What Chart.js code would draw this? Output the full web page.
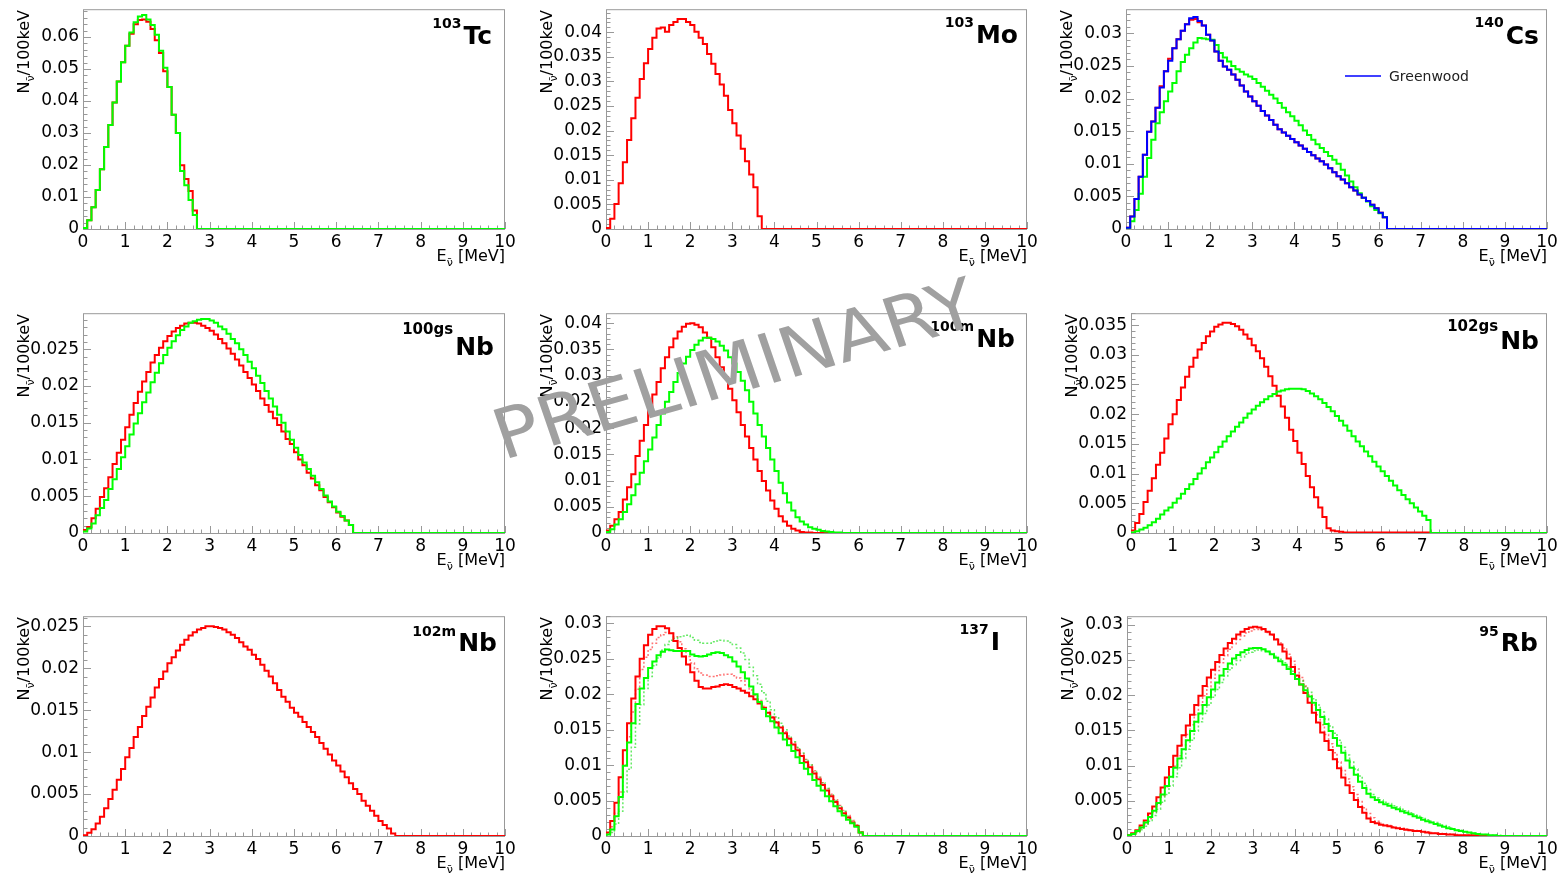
<!DOCTYPE html>
<html><head><meta charset="utf-8">
<script src="https://cdn.jsdelivr.net/npm/chart.js@4.4.1/dist/chart.umd.min.js"></script>
<style>
html,body{margin:0;padding:0;background:#fff;}
body{width:1562px;height:877px;position:relative;overflow:hidden;}
canvas.pane{position:absolute;}
svg#ann{position:absolute;left:0;top:0;}
</style></head><body>
<div id="wrap"></div>
<svg id="ann" width="1562" height="877" xmlns="http://www.w3.org/2000/svg"></svg>
<script>
// ---------------- DATA (bin contents, 0.1 MeV bins starting at 0 MeV; later bins are 0) ----------------
const NBINS = 100, BIN_WIDTH = 0.1;
const energyTicks = [0,1,2,3,4,5,6,7,8,9,10];

const tc103Red   = [0.0003,0.0027,0.0068,0.0122,0.0187,0.0256,0.0325,0.0395,0.0461,0.0521,0.0573,0.0610,0.0640,0.0653,0.0655,0.0648,0.0625,0.0590,0.0550,0.0493,0.0444,0.0357,0.0300,0.0199,0.0156,0.0119,0.0058];
const tc103Green = [0.0003,0.0027,0.0068,0.0122,0.0187,0.0256,0.0325,0.0395,0.0461,0.0521,0.0573,0.0614,0.0646,0.0664,0.0669,0.0655,0.0638,0.0607,0.0557,0.0504,0.0444,0.0357,0.0300,0.0181,0.0137,0.0091,0.0044];
const tc103YTicks = [0,0.01,0.02,0.03,0.04,0.05,0.06];

const mo103Red = [0.0002,0.0021,0.0051,0.0093,0.0136,0.0181,0.0225,0.0267,0.0305,0.0337,0.0366,0.0389,0.0408,0.0410,0.0401,0.0415,0.0421,0.0427,0.0427,0.0421,0.0415,0.0401,0.0389,0.0376,0.0356,0.0336,0.0315,0.0294,0.0271,0.0242,0.0215,0.0190,0.0163,0.0138,0.0111,0.0085,0.0026];
const mo103YTicks = [0,0.005,0.01,0.015,0.02,0.025,0.03,0.035,0.04];

const cs140Blue  = [0.0002,0.0019,0.0046,0.0080,0.0114,0.0149,0.0165,0.0186,0.0217,0.0242,0.0258,0.0277,0.0291,0.0304,0.0314,0.0323,0.0325,0.0319,0.0312,0.0298,0.0289,0.0272,0.0258,0.0249,0.0244,0.0237,0.0229,0.0220,0.0211,0.0203,0.0196,0.0189,0.0181,0.0174,0.0167,0.0160,0.0153,0.0148,0.0143,0.0138,0.0133,0.0128,0.0123,0.0118,0.0113,0.0108,0.0104,0.0099,0.0093,0.0087,0.0081,0.0076,0.0070,0.0064,0.0059,0.0053,0.0048,0.0043,0.0037,0.0032,0.0025,0.0018];
const cs140Red   = [0.0002,0.0019,0.0046,0.0080,0.0114,0.0149,0.0165,0.0186,0.0219,0.0242,0.0261,0.0277,0.0291,0.0304,0.0314,0.0321,0.0322,0.0317,0.0312,0.0298,0.0289,0.0272,0.0258,0.0249,0.0244,0.0237,0.0229,0.0220,0.0211,0.0203,0.0196,0.0189,0.0181,0.0174,0.0167,0.0160,0.0153,0.0148,0.0143,0.0138,0.0133,0.0128,0.0123,0.0118,0.0113,0.0108,0.0104,0.0099,0.0093,0.0087,0.0081,0.0076,0.0070,0.0064,0.0059,0.0053,0.0048,0.0043,0.0037,0.0032,0.0025,0.0018];
const cs140Green = [0.0001,0.0012,0.0029,0.0054,0.0080,0.0109,0.0137,0.0162,0.0179,0.0196,0.0211,0.0224,0.0242,0.0256,0.0267,0.0277,0.0286,0.0293,0.0292,0.0291,0.0290,0.0282,0.0270,0.0263,0.0257,0.0250,0.0245,0.0241,0.0237,0.0234,0.0230,0.0224,0.0218,0.0212,0.0206,0.0200,0.0193,0.0186,0.0179,0.0173,0.0166,0.0159,0.0151,0.0144,0.0137,0.0130,0.0124,0.0118,0.0112,0.0106,0.0100,0.0091,0.0082,0.0073,0.0064,0.0055,0.0048,0.0042,0.0035,0.0029,0.0024,0.0018];
const cs140YTicks = [0,0.005,0.01,0.015,0.02,0.025,0.03];

const nb100gsRed   = [0.0004,0.0008,0.0020,0.0033,0.0049,0.0061,0.0076,0.0094,0.0109,0.0127,0.0144,0.0161,0.0177,0.0192,0.0206,0.0219,0.0232,0.0242,0.0252,0.0261,0.0268,0.0274,0.0279,0.0282,0.0285,0.0286,0.0286,0.0285,0.0282,0.0279,0.0275,0.0270,0.0264,0.0258,0.0251,0.0244,0.0236,0.0228,0.0219,0.0211,0.0202,0.0193,0.0183,0.0174,0.0165,0.0156,0.0147,0.0138,0.0128,0.0121,0.0110,0.0100,0.0092,0.0082,0.0074,0.0065,0.0058,0.0049,0.0042,0.0035,0.0028,0.0022,0.0017,0.0011];
const nb100gsGreen = [0.0002,0.0006,0.0013,0.0024,0.0034,0.0045,0.0060,0.0073,0.0087,0.0103,0.0118,0.0134,0.0149,0.0163,0.0178,0.0191,0.0205,0.0218,0.0231,0.0242,0.0252,0.0261,0.0269,0.0276,0.0281,0.0286,0.0288,0.0290,0.0291,0.0291,0.0289,0.0286,0.0281,0.0277,0.0271,0.0264,0.0258,0.0250,0.0242,0.0233,0.0224,0.0214,0.0204,0.0193,0.0183,0.0172,0.0161,0.0150,0.0138,0.0127,0.0116,0.0106,0.0096,0.0087,0.0078,0.0069,0.0060,0.0051,0.0043,0.0036,0.0029,0.0023,0.0017,0.0011];
const nb100gsYTicks = [0,0.005,0.01,0.015,0.02,0.025];

const nb100mRed   = [0.0005,0.0014,0.0026,0.0040,0.0064,0.0087,0.0112,0.0147,0.0176,0.0206,0.0236,0.0264,0.0288,0.0314,0.0335,0.0354,0.0371,0.0384,0.0393,0.0399,0.0400,0.0397,0.0392,0.0382,0.0372,0.0354,0.0335,0.0316,0.0297,0.0275,0.0253,0.0230,0.0206,0.0184,0.0162,0.0140,0.0118,0.0099,0.0081,0.0062,0.0046,0.0032,0.0022,0.0014,0.0008,0.0005,0.0002,0.0001,0.0001];
const nb100mGreen = [0.0002,0.0007,0.0016,0.0026,0.0040,0.0055,0.0072,0.0093,0.0115,0.0137,0.0159,0.0182,0.0206,0.0228,0.0250,0.0269,0.0288,0.0305,0.0323,0.0336,0.0349,0.0359,0.0367,0.0372,0.0372,0.0370,0.0365,0.0357,0.0348,0.0335,0.0323,0.0307,0.0290,0.0272,0.0250,0.0228,0.0206,0.0184,0.0162,0.0140,0.0118,0.0096,0.0076,0.0058,0.0043,0.0030,0.0022,0.0016,0.0011,0.0008,0.0006,0.0004,0.0003,0.0002,0.0001,0.0001];
const nb100mYTicks = [0,0.005,0.01,0.015,0.02,0.025,0.03,0.035,0.04];

const nb102gsRed   = [0.0004,0.0017,0.0032,0.0052,0.0071,0.0092,0.0115,0.0135,0.0159,0.0183,0.0200,0.0224,0.0245,0.0263,0.0280,0.0295,0.0309,0.0320,0.0331,0.0339,0.0347,0.0351,0.0354,0.0354,0.0352,0.0348,0.0342,0.0334,0.0327,0.0316,0.0306,0.0294,0.0280,0.0264,0.0248,0.0231,0.0213,0.0194,0.0174,0.0155,0.0135,0.0116,0.0096,0.0077,0.0060,0.0043,0.0027,0.0008,0.0004,0.0003,0.0002,0.0001,0.0001,0.0001,0.0001,0.0001,0.0001,0.0001,0.0001,0.0001,0.0001,0.0001,0.0001,0.0001,0.0001,0.0001,0.0001,0.0001,0.0001,0.0001,0.0001,0.0001];
const nb102gsGreen = [0.0001,0.0003,0.0006,0.0009,0.0013,0.0018,0.0024,0.0031,0.0038,0.0043,0.0051,0.0058,0.0066,0.0074,0.0082,0.0091,0.0100,0.0109,0.0119,0.0127,0.0136,0.0145,0.0154,0.0163,0.0171,0.0179,0.0186,0.0194,0.0201,0.0208,0.0214,0.0220,0.0225,0.0230,0.0234,0.0238,0.0240,0.0242,0.0243,0.0243,0.0243,0.0242,0.0239,0.0235,0.0230,0.0225,0.0219,0.0212,0.0205,0.0197,0.0189,0.0181,0.0172,0.0163,0.0154,0.0146,0.0137,0.0129,0.0120,0.0112,0.0104,0.0096,0.0088,0.0080,0.0072,0.0064,0.0057,0.0050,0.0043,0.0036,0.0029,0.0022];
const nb102gsYTicks = [0,0.005,0.01,0.015,0.02,0.025,0.03,0.035];

const nb102mRed = [0.0001,0.0004,0.0008,0.0015,0.0023,0.0033,0.0044,0.0055,0.0067,0.0080,0.0094,0.0105,0.0118,0.0130,0.0143,0.0154,0.0165,0.0177,0.0187,0.0196,0.0206,0.0213,0.0221,0.0228,0.0234,0.0239,0.0243,0.0246,0.0248,0.0250,0.0250,0.0249,0.0248,0.0246,0.0243,0.0240,0.0236,0.0231,0.0226,0.0222,0.0216,0.0211,0.0204,0.0197,0.0190,0.0182,0.0174,0.0166,0.0160,0.0153,0.0147,0.0142,0.0136,0.0130,0.0124,0.0118,0.0111,0.0104,0.0097,0.0090,0.0084,0.0077,0.0070,0.0063,0.0056,0.0050,0.0042,0.0036,0.0030,0.0024,0.0018,0.0013,0.0009,0.0003];
const nb102mYTicks = [0,0.005,0.01,0.015,0.02,0.025];

const i137Red        = [0.0005,0.0021,0.0047,0.0083,0.0121,0.0159,0.0194,0.0225,0.0250,0.0269,0.0284,0.0292,0.0296,0.0296,0.0293,0.0286,0.0275,0.0265,0.0253,0.0242,0.0231,0.0219,0.0210,0.0208,0.0208,0.0210,0.0211,0.0213,0.0214,0.0213,0.0210,0.0208,0.0205,0.0202,0.0197,0.0193,0.0187,0.0181,0.0174,0.0167,0.0160,0.0153,0.0145,0.0137,0.0129,0.0121,0.0113,0.0104,0.0097,0.0088,0.0080,0.0072,0.0064,0.0056,0.0048,0.0039,0.0032,0.0026,0.0019,0.0014,0.0005];
const i137Green      = [0.0002,0.0009,0.0028,0.0055,0.0099,0.0132,0.0159,0.0186,0.0208,0.0223,0.0237,0.0246,0.0255,0.0260,0.0263,0.0262,0.0261,0.0261,0.0261,0.0261,0.0256,0.0254,0.0253,0.0254,0.0256,0.0258,0.0259,0.0258,0.0255,0.0252,0.0246,0.0239,0.0231,0.0222,0.0211,0.0200,0.0189,0.0179,0.0169,0.0162,0.0153,0.0145,0.0136,0.0128,0.0120,0.0111,0.0103,0.0095,0.0087,0.0079,0.0071,0.0064,0.0056,0.0049,0.0042,0.0035,0.0029,0.0023,0.0018,0.0013,0.0005];
const i137RedDotted  = [0.0003,0.0013,0.0032,0.0062,0.0100,0.0140,0.0175,0.0207,0.0235,0.0252,0.0263,0.0272,0.0280,0.0284,0.0287,0.0286,0.0281,0.0274,0.0264,0.0253,0.0244,0.0236,0.0230,0.0227,0.0225,0.0225,0.0226,0.0227,0.0228,0.0228,0.0226,0.0223,0.0219,0.0213,0.0206,0.0199,0.0191,0.0183,0.0175,0.0168,0.0161,0.0154,0.0147,0.0139,0.0132,0.0124,0.0116,0.0108,0.0100,0.0092,0.0083,0.0075,0.0067,0.0059,0.0051,0.0043,0.0036,0.0029,0.0022,0.0016,0.0006];
const i137GreenDotted= [0.0001,0.0005,0.0017,0.0035,0.0062,0.0094,0.0125,0.0158,0.0185,0.0208,0.0225,0.0240,0.0251,0.0262,0.0270,0.0276,0.0279,0.0281,0.0282,0.0283,0.0280,0.0276,0.0273,0.0272,0.0272,0.0274,0.0275,0.0276,0.0275,0.0273,0.0270,0.0265,0.0258,0.0249,0.0238,0.0226,0.0214,0.0202,0.0190,0.0178,0.0168,0.0159,0.0150,0.0141,0.0133,0.0125,0.0117,0.0108,0.0100,0.0091,0.0083,0.0075,0.0067,0.0058,0.0050,0.0043,0.0035,0.0028,0.0021,0.0015,0.0005];
const i137YTicks = [0,0.005,0.01,0.015,0.02,0.025,0.03];

const rb95Red        = [0.0001,0.0004,0.0008,0.0015,0.0022,0.0032,0.0042,0.0055,0.0069,0.0083,0.0098,0.0114,0.0128,0.0143,0.0157,0.0172,0.0186,0.0199,0.0213,0.0225,0.0236,0.0247,0.0257,0.0266,0.0274,0.0280,0.0286,0.0290,0.0294,0.0296,0.0297,0.0296,0.0294,0.0290,0.0286,0.0279,0.0272,0.0262,0.0252,0.0240,0.0228,0.0215,0.0203,0.0189,0.0175,0.0161,0.0147,0.0135,0.0122,0.0109,0.0096,0.0083,0.0072,0.0061,0.0051,0.0041,0.0033,0.0025,0.0020,0.0018,0.0016,0.0015,0.0014,0.0012,0.0011,0.0010,0.0009,0.0008,0.0007,0.0007,0.0006,0.0005,0.0004,0.0004,0.0003,0.0003,0.0002,0.0002,0.0001,0.0001,0.0001,0.0001,0.0001];
const rb95Green      = [0.0001,0.0003,0.0007,0.0012,0.0019,0.0027,0.0036,0.0047,0.0059,0.0071,0.0084,0.0097,0.0110,0.0123,0.0136,0.0149,0.0162,0.0174,0.0186,0.0197,0.0208,0.0218,0.0228,0.0237,0.0245,0.0252,0.0257,0.0261,0.0264,0.0266,0.0267,0.0267,0.0265,0.0262,0.0258,0.0253,0.0248,0.0243,0.0237,0.0230,0.0223,0.0215,0.0207,0.0198,0.0189,0.0179,0.0169,0.0159,0.0149,0.0139,0.0128,0.0118,0.0107,0.0097,0.0087,0.0077,0.0068,0.0060,0.0055,0.0051,0.0048,0.0045,0.0043,0.0040,0.0038,0.0035,0.0033,0.0031,0.0028,0.0026,0.0023,0.0021,0.0019,0.0017,0.0015,0.0013,0.0011,0.0010,0.0008,0.0007,0.0006,0.0005,0.0004,0.0003,0.0002,0.0002,0.0001,0.0001];
const rb95RedDotted  = [0.0001,0.0003,0.0006,0.0011,0.0017,0.0025,0.0034,0.0045,0.0057,0.0070,0.0084,0.0099,0.0114,0.0129,0.0144,0.0158,0.0172,0.0186,0.0199,0.0212,0.0224,0.0235,0.0246,0.0256,0.0265,0.0273,0.0279,0.0284,0.0288,0.0291,0.0293,0.0293,0.0292,0.0289,0.0285,0.0280,0.0274,0.0267,0.0258,0.0248,0.0237,0.0225,0.0213,0.0200,0.0186,0.0172,0.0158,0.0144,0.0131,0.0118,0.0105,0.0093,0.0081,0.0070,0.0059,0.0049,0.0040,0.0032,0.0026,0.0021,0.0018,0.0016,0.0015,0.0013,0.0012,0.0011,0.0010,0.0009,0.0008,0.0007,0.0006,0.0006,0.0005,0.0004,0.0004,0.0003,0.0003,0.0002,0.0002,0.0001,0.0001,0.0001];
const rb95GreenDotted= [0.0000,0.0002,0.0005,0.0009,0.0014,0.0021,0.0029,0.0038,0.0048,0.0059,0.0071,0.0084,0.0097,0.0110,0.0123,0.0136,0.0149,0.0162,0.0174,0.0186,0.0197,0.0208,0.0218,0.0227,0.0236,0.0243,0.0249,0.0254,0.0258,0.0261,0.0263,0.0264,0.0263,0.0262,0.0259,0.0255,0.0251,0.0246,0.0240,0.0234,0.0227,0.0220,0.0212,0.0204,0.0195,0.0186,0.0176,0.0166,0.0156,0.0146,0.0136,0.0126,0.0115,0.0105,0.0095,0.0085,0.0075,0.0066,0.0059,0.0054,0.0051,0.0048,0.0046,0.0043,0.0041,0.0038,0.0036,0.0033,0.0031,0.0028,0.0026,0.0023,0.0021,0.0019,0.0017,0.0015,0.0013,0.0011,0.0009,0.0008,0.0006,0.0005,0.0004,0.0003,0.0002,0.0002,0.0001,0.0001,0.0001];
const rb95YTicks = [0,0.005,0.01,0.015,0.02,0.025,0.03];

// ---------------- STYLE / LAYOUT ----------------
const RED = '#ff0000', GREEN = '#00ff00', BLUE = '#0000ff';
const RED_DOT = 'rgba(255,0,0,0.55)', GREEN_DOT = 'rgba(0,220,0,0.6)';
const FONT = 'DejaVu Sans';

// label: right edge x, main-text baseline y, superscript raise dy, superscript size
const PANELS = [
  {frame:[83,7,505,229],   ymax:0.0687, yTicks:tc103YTicks,  yMinor:0.002,
   series:[{v:tc103Green,c:GREEN},{v:tc103Red,c:RED}], label:{x:492,y:44,sup:'103',main:'Tc',dy:16,fs:14}},
  {frame:[606,7,1027,229], ymax:0.0447, yTicks:mo103YTicks,  yMinor:0.001,
   series:[{v:mo103Red,c:RED}], label:{x:1018,y:43,sup:'103',main:'Mo',dy:16,fs:14}},
  {frame:[1126,7,1547,229],ymax:0.0337, yTicks:cs140YTicks,  yMinor:0.001,
   series:[{v:cs140Blue,c:BLUE},{v:cs140Green,c:GREEN},{v:cs140Red,c:RED}], label:{x:1539,y:44,sup:'140',main:'Cs',dy:17,fs:14}, legend:true},
  {frame:[83,311,505,533], ymax:0.0299, yTicks:nb100gsYTicks,yMinor:0.001,
   series:[{v:nb100gsGreen,c:GREEN},{v:nb100gsRed,c:RED}], label:{x:494,y:355,sup:'100gs',main:'Nb',dy:21,fs:15}},
  {frame:[606,311,1027,533],ymax:0.0419, yTicks:nb100mYTicks, yMinor:0.001,
   series:[{v:nb100mGreen,c:GREEN},{v:nb100mRed,c:RED}], label:{x:1015,y:347,sup:'100m',main:'Nb',dy:16,fs:14}},
  {frame:[1131,311,1547,533],ymax:0.0370,yTicks:nb102gsYTicks,yMinor:0.001,
   series:[{v:nb102gsGreen,c:GREEN},{v:nb102gsRed,c:RED}], label:{x:1539,y:349,sup:'102gs',main:'Nb',dy:18,fs:15}},
  {frame:[83,614,505,836], ymax:0.0262, yTicks:nb102mYTicks, yMinor:0.001,
   series:[{v:nb102mRed,c:RED}], label:{x:497,y:651,sup:'102m',main:'Nb',dy:15,fs:14}},
  {frame:[606,614,1027,836],ymax:0.0310, yTicks:i137YTicks,   yMinor:0.001,
   series:[{v:i137Green,c:GREEN},{v:i137Red,c:RED},{v:i137GreenDotted,c:GREEN_DOT,dot:true},{v:i137RedDotted,c:RED_DOT,dot:true}], label:{x:1000,y:650,sup:'137',main:'I',dy:16,fs:14}},
  {frame:[1127,614,1547,836],ymax:0.0312,yTicks:rb95YTicks,   yMinor:0.001,
   series:[{v:rb95Green,c:GREEN},{v:rb95Red,c:RED},{v:rb95GreenDotted,c:GREEN_DOT,dot:true},{v:rb95RedDotted,c:RED_DOT,dot:true}], label:{x:1538,y:651,sup:'95',main:'Rb',dy:15,fs:14}}
];

function toPoints(vals){
  const pts = [];
  for (let i = 0; i < NBINS; i++) pts.push({x: +(i*BIN_WIDTH).toFixed(1), y: i < vals.length ? vals[i] : 0});
  pts.push({x: NBINS*BIN_WIDTH, y: 0});
  return pts;
}

// frame + ROOT style inward tick marks, positioned through the chart's scales
const rootFrame = {
  id: 'rootFrame',
  beforeDatasetsDraw(chart, args, o) {
    const {ctx, chartArea: a, scales: {x, y}} = chart;
    ctx.save();
    ctx.strokeStyle = '#999999'; ctx.lineWidth = 1;
    ctx.beginPath();
    for (let k = 0; k * 0.2 <= 10 + 1e-9; k++) {
      const v = k * 0.2, major = k % 5 === 0;
      const px = Math.round(x.getPixelForValue(v)) + 0.5;
      ctx.moveTo(px, a.bottom); ctx.lineTo(px, a.bottom - (major ? 7 : 3.5));
    }
    const step = o.yMinor, per = o.yPer;
    for (let k = 0; k * step <= y.max + 1e-12; k++) {
      const py = Math.round(y.getPixelForValue(k * step)) + 0.5;
      ctx.moveTo(a.left, py); ctx.lineTo(a.left + (k % per === 0 ? 8 : 4.5), py);
    }
    ctx.stroke();
    ctx.strokeRect(a.left + 0.5, a.top + 0.5, a.right - a.left - 1, a.bottom - a.top);
    ctx.restore();
  }
};

const PAD_TOP = 12, PAD_RIGHT = 16, Y_W = 83, X_H = 30;
const wrap = document.getElementById('wrap');
PANELS.forEach(p => {
  const [L, T, R, B] = p.frame;
  const w = R - L + Y_W + PAD_RIGHT, h = B - T + PAD_TOP + X_H;
  const cv = document.createElement('canvas');
  cv.className = 'pane'; cv.width = w; cv.height = h;
  cv.style.left = (L - Y_W) + 'px'; cv.style.top = (T - PAD_TOP) + 'px';
  cv.style.width = w + 'px'; cv.style.height = h + 'px';
  wrap.appendChild(cv);
  const yStep = p.yTicks[1];
  new Chart(cv.getContext('2d'), {
    type: 'line',
    data: {datasets: p.series.map((s, i) => ({
      data: toPoints(s.v), borderColor: s.c, borderWidth: s.dot ? 1.5 : 2,
      borderDash: s.dot ? [2, 2] : [], stepped: true, pointRadius: 0, fill: false, order: i,
      borderJoinStyle: 'miter', borderCapStyle: 'butt'
    }))},
    options: {
      responsive: false, animation: false, devicePixelRatio: 1,
      layout: {padding: {left: 0, top: PAD_TOP, right: PAD_RIGHT, bottom: 0}},
      plugins: {legend: {display: false}, tooltip: {enabled: false},
                rootFrame: {yMinor: p.yMinor, yPer: Math.round(yStep / p.yMinor)}},
      scales: {
        x: {type: 'linear', min: 0, max: 10,
            grid: {display: false, drawTicks: false}, border: {display: false},
            afterBuildTicks: sc => { sc.ticks = energyTicks.map(v => ({value: v})); },
            afterFit: sc => { sc.height = X_H; },
            ticks: {autoSkip: false, maxRotation: 0, minRotation: 0, padding: 3,
                    font: {family: FONT, size: 17}, color: '#000', callback: v => String(v)}},
        y: {type: 'linear', min: 0, max: p.ymax,
            grid: {display: false, drawTicks: false}, border: {display: false},
            afterBuildTicks: sc => { sc.ticks = p.yTicks.map(v => ({value: v})); },
            afterFit: sc => { sc.width = Y_W; },
            ticks: {autoSkip: false, padding: 4, font: {family: FONT, size: 17}, color: '#000',
                    callback: v => String(+v.toFixed(4))}}
      }
    },
    plugins: [rootFrame]
  });
});

// ---------------- TEXT OVERLAY ----------------
const NU = '\u03BD\u0304';
let s = '';
PANELS.forEach(p => {
  const [L, T, R, B] = p.frame, lb = p.label;
  s += `<text x="${R}" y="${B + 32}" text-anchor="end" font-family="${FONT}" font-size="16" fill="#000">E<tspan font-size="11" dy="5">${NU}</tspan><tspan dy="-5"> [MeV]</tspan></text>`;
  s += `<text transform="translate(${L - 54},${T + 3}) rotate(-90)" text-anchor="end" font-family="${FONT}" font-size="16" fill="#000">N<tspan font-size="11" dy="5">${NU}</tspan><tspan dy="-5">/100keV</tspan></text>`;
  s += `<text x="${lb.x}" y="${lb.y}" text-anchor="end" font-family="${FONT}" font-weight="bold" font-size="25" fill="#000"><tspan font-size="${lb.fs}" dy="${-lb.dy}">${lb.sup}</tspan><tspan dx="2" dy="${lb.dy}">${lb.main}</tspan></text>`;
  if (p.legend) {
    s += `<line x1="1345" y1="76" x2="1381" y2="76" stroke="${BLUE}" stroke-width="1.5"/>`;
    s += `<text x="1389" y="81" font-family="${FONT}" font-size="14" fill="#222">Greenwood</text>`;
  }
});
s += `<text x="0" y="0" transform="translate(503 460) scale(1.1 1) rotate(-17.4)" font-family="${FONT}" font-size="69" fill="#a0a0a0">PRELIMINARY</text>`;
document.getElementById('ann').innerHTML = s;
</script>
</body></html>
